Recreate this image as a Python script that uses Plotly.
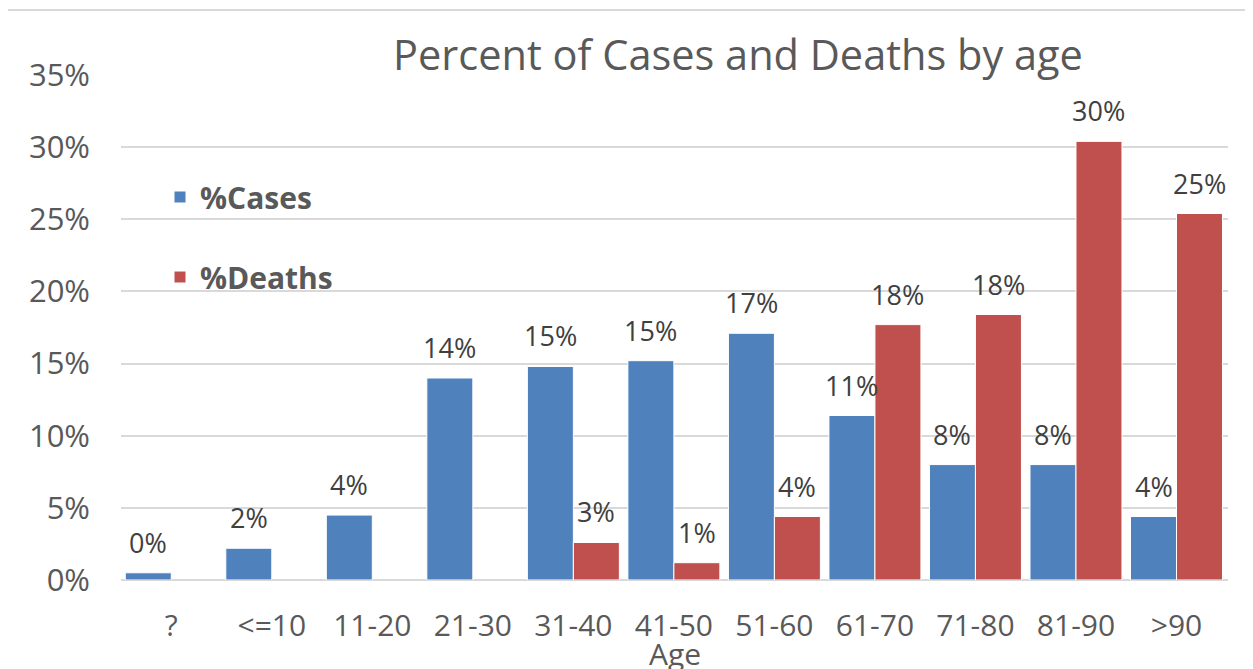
import plotly.graph_objects as go

categories = ["?", "<=10", "11-20", "21-30", "31-40", "41-50", "51-60", "61-70", "71-80", "81-90", ">90"]
pct_cases = [0.005, 0.022, 0.045, 0.140, 0.148, 0.152, 0.171, 0.114, 0.080, 0.080, 0.044]
pct_deaths = [None, None, None, None, 0.026, 0.012, 0.044, 0.177, 0.184, 0.304, 0.254]
y_ticks = [0, 0.05, 0.10, 0.15, 0.20, 0.25, 0.30, 0.35]
x_title = "Age"

BLUE = "#4f81bd"
RED = "#c0504d"
TXT = "#595959"
FONT = "Open Sans"

# page body has an 8px margin; figure sized to fit the window
W, H = 1245, 661
ML, MR, MT, MB = 113, 25, 67, 89
PW = W - ML - MR
PH = H - MT - MB

fig = go.Figure()
fig.add_trace(go.Bar(x=categories, y=pct_cases, name="%Cases", marker=dict(color=BLUE, line=dict(color="white", width=1)),
                     legendgroup="a"))
fig.add_trace(go.Bar(x=categories, y=pct_deaths, name="%Deaths", marker=dict(color=RED, line=dict(color="white", width=1)),
                     legendgroup="b"))

def px_x(p):
    return (p - ML) / PW

def px_y(p):
    return (H - MB - p) / PH

annots = []
for c, v in zip(categories, pct_cases):
    if v is not None:
        annots.append(dict(x=c, y=v, xref="x", yref="y", text=f"{round(v*100):.0f}%", showarrow=False,
                           yanchor="bottom", xshift=-23, yshift=10, font=dict(family=FONT, size=27, color="#404040")))
for c, v in zip(categories, pct_deaths):
    if v is not None:
        annots.append(dict(x=c, y=v, xref="x", yref="y", text=f"{round(v*100):.0f}%", showarrow=False,
                           yanchor="bottom", xshift=23, yshift=10, font=dict(family=FONT, size=27, color="#404040")))
# x-axis title (placed like the reference, partly cut by the bottom edge)
annots.append(dict(x=0.5, y=px_y(623), xref="paper", yref="paper", text=x_title, showarrow=False,
                   xanchor="center", yanchor="top", font=dict(family=FONT, size=30, color=TXT)))

shapes = [
    dict(type="line", xref="paper", yref="paper", x0=px_x(-1), x1=px_x(-1), y0=px_y(2), y1=px_y(H + 5),
         line=dict(color="#d9d9d9", width=2)),
    dict(type="line", xref="paper", yref="paper", x0=px_x(-1), x1=px_x(W + 5), y0=px_y(2), y1=px_y(2),
         line=dict(color="#d9d9d9", width=2)),
]

fig.update_layout(
    width=W, height=H,
    margin=dict(l=ML, r=MR, t=MT, b=MB, pad=0, autoexpand=False),
    paper_bgcolor="white", plot_bgcolor="white",
    font=dict(family=FONT, color=TXT),
    title=dict(text="Percent of Cases and Deaths by age", xref="container", x=730 / W, xanchor="center",
               yref="container", y=1 - 47 / H, yanchor="middle", font=dict(family=FONT, size=41.5, color=TXT)),
    barmode="group", bargap=0.085, bargroupgap=0,
    showlegend=True,
    legend=dict(x=px_x(152), y=px_y(163), xanchor="left", yanchor="top", traceorder="grouped",
                tracegroupgap=38, bgcolor="rgba(0,0,0,0)",
                font=dict(family=FONT, size=30, color=TXT, weight="bold")),
    xaxis=dict(type="category", showgrid=False, showline=False, ticks="", automargin=False,
               ticklabelstandoff=25,
               tickfont=dict(family=FONT, size=30, color=TXT)),
    yaxis=dict(range=[0, 0.35], tickvals=y_ticks, tickformat=".0%", showgrid=True, gridcolor="#d9d9d9",
               automargin=False,
               gridwidth=1.5, zeroline=True, zerolinecolor="#d9d9d9", zerolinewidth=1.5, showline=False,
               ticklabelstandoff=30, tickfont=dict(family=FONT, size=31, color=TXT)),
    annotations=annots,
    shapes=shapes,
)

fig.write_html("out.html")
